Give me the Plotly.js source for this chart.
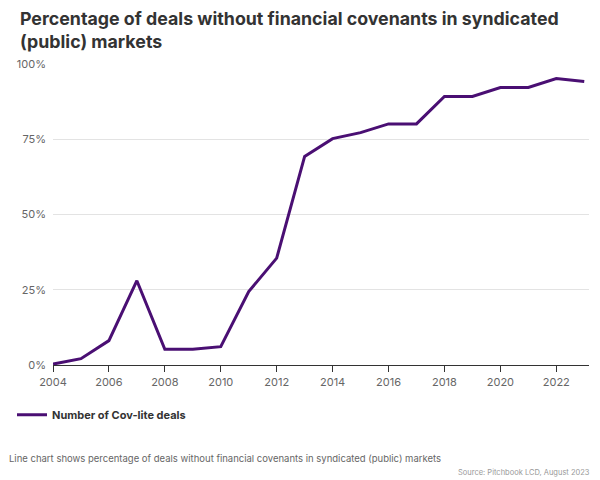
<!DOCTYPE html>
<html>
<head>
<meta charset="utf-8">
<script src="https://cdn.plot.ly/plotly-3.0.1.min.js"></script>
<style>html,body{margin:0;padding:0;background:#fff;}#chart{width:600px;height:480px;}</style>
</head>
<body>
<div id="chart"></div>
<script>
const years = [2004,2005,2006,2007,2008,2009,2010,2011,2012,2013,2014,2015,2016,2017,2018,2019,2020,2021,2022,2023];
const covLitePct = [0.3,2.1,8.1,28,5.2,5.2,6.1,24.4,35.5,69.3,75.2,77.2,80.1,80.1,89.2,89.2,92.2,92.2,95.2,94.2];
const seriesName = 'Number of Cov-lite deals';
const yTicks = [0,25,50,75,100];
const yTickLabels = ['0%','25%','50%','75%','100%'];
const xTicks = [2004,2006,2008,2010,2012,2014,2016,2018,2020,2022];

const font = 'Inter, "Noto Sans", sans-serif';
const trace = {
  x: years, y: covLitePct, type: 'scatter', mode: 'lines', name: seriesName,
  line: {color: '#4a0f73', width: 3}, hoverinfo: 'skip'
};
const layout = {
  width: 600, height: 480,
  margin: {l: 53, r: 11, t: 64, b: 115},
  paper_bgcolor: '#fff', plot_bgcolor: '#fff',
  font: {family: font, color: '#666'},
  title: {text: 'Percentage of deals without financial covenants in syndicated<br>(public) markets',
    x: 0, xref: 'container', xanchor: 'left', y: 0.948, yanchor: 'top', yref: 'container',
    pad: {l: 20},
    font: {family: font, size: 17.8, color: '#333', weight: 700}},
  xaxis: {range: [2004, 2023.17], tickvals: xTicks, ticktext: xTicks.map(String),
    showgrid: false, zeroline: false, showline: true, linecolor: '#333', linewidth: 1.3,
    ticks: 'outside', ticklen: 6, tickcolor: '#333', tickwidth: 1,
    tickfont: {size: 11, color: '#666', family: font}, fixedrange: true},
  yaxis: {range: [0, 100], tickvals: yTicks, ticktext: yTickLabels,
    showgrid: true, gridcolor: '#e3e3e3', gridwidth: 1, zeroline: false, showline: false,
    ticks: '', ticklabelstandoff: 6,
    tickfont: {size: 11, color: '#666', family: font}, fixedrange: true},
  showlegend: true,
  legend: {orientation: 'h', xref: 'container', yref: 'container', x: 0.02, y: 0.136, xanchor: 'left', yanchor: 'middle',
    font: {size: 11, color: '#333', family: font, weight: 700}, itemwidth: 30},
  annotations: [
    {text: 'Line chart shows percentage of deals without financial covenants in syndicated (public) markets',
     xref: 'paper', yref: 'paper', x: -0.085, y: -0.31, xanchor: 'left', yanchor: 'middle', showarrow: false,
     font: {size: 9.5, color: '#666', family: font}},
    {text: 'Source: Pitchbook LCD, August 2023',
     xref: 'paper', yref: 'paper', x: 1.005, y: -0.358, xanchor: 'right', yanchor: 'middle', showarrow: false,
     font: {size: 7.5, color: '#999', family: font}}
  ]
};
Plotly.newPlot('chart', [trace], layout, {displayModeBar: false, staticPlot: true});
</script>
</body>
</html>
